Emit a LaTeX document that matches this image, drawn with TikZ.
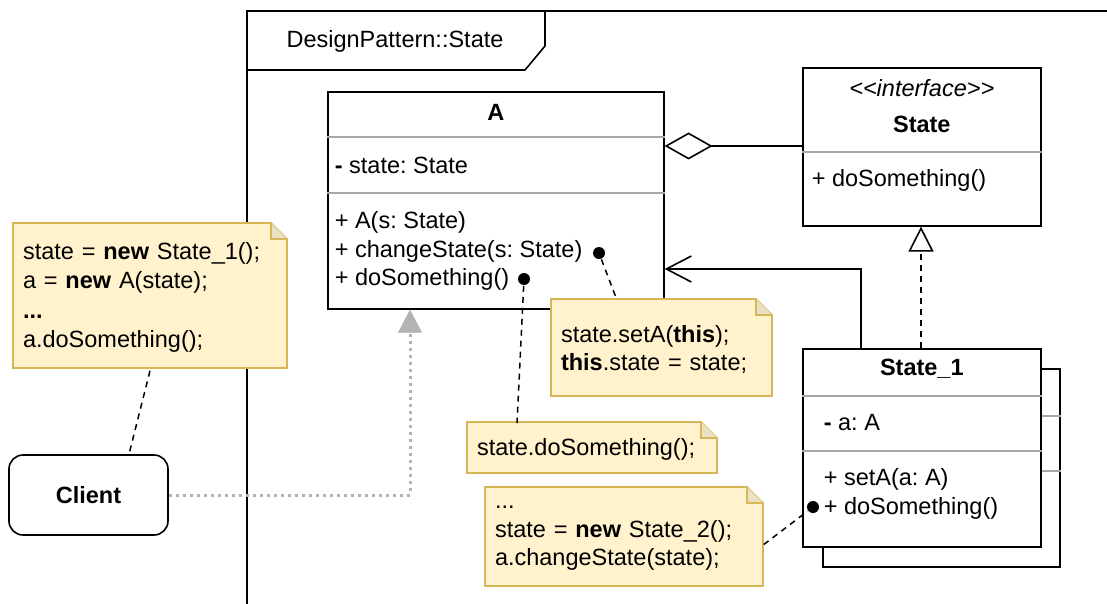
\documentclass[tikz,border=0pt]{standalone}
\usepackage{fontspec}
\setmainfont{Liberation Sans}
\usetikzlibrary{arrows.meta}
\frenchspacing

\definecolor{notefill}{HTML}{FFF2CC}
\definecolor{noteline}{HTML}{D6B656}
\definecolor{notefold}{HTML}{EAE0C4}
\definecolor{sepgray}{HTML}{A6A6A6}
\definecolor{depgray}{HTML}{B3B3B3}

% note with folded corner: name, x1, y1, x2, y2, text
\newcommand\umlnote[6]{%
  \draw[notepath] (#2,#3) -- (#4-16,#3) -- (#4,#3+16) -- (#4,#5) -- (#2,#5) -- cycle;
  \draw[notepath, fill=notefold] (#4-16,#3) -- (#4-16,#3+16) -- (#4,#3+16);
  \pgfmathsetmacro\notetw{#4-#2-20}
  \node[notetext, text width=\notetw pt, minimum height=#5-#3] (#1) at ({(#2+#4)/2},{(#3+#5)/2+2}) {#6};
}

\begin{document}
\begin{tikzpicture}[
        x=1pt, y=-1pt,
        line width=1.6pt,
        umlfont/.style={font=\fontsize{23.5}{28.5}\selectfont},
        umlbold/.style={font=\fontsize{23.5}{28.5}\selectfont\bfseries},
        umlital/.style={font=\fontsize{23.5}{28.5}\selectfont\itshape},
        classbox/.style={draw, fill=white, inner sep=0pt, anchor=north west},
        sepline/.style={draw=sepgray},
        member/.style={umlfont, anchor=west, inner sep=0pt, align=left},
        notepath/.style={draw=noteline, fill=notefill},
        notetext/.style={umlfont, align=left, inner xsep=10pt, inner ysep=0pt},
        notelink/.style={line width=1.5pt, dash pattern=on 6pt off 5pt},
        dotend/.style={circle, fill, inner sep=0pt, minimum size=12pt},
        aggr/.style={-{Diamond[open, length=48pt, width=27pt]}},
        assoc/.style={-{Straight Barb[length=25pt, width=26pt]}},
        realize/.style={dash pattern=on 6pt off 5pt, -{Triangle[open, length=25pt, width=25pt]}},
        dependency/.style={depgray, line width=3pt, dash pattern=on 3pt off 4pt,
            -{Triangle[length=23pt, width=24pt, line width=0.5pt]}}
    ]
    \useasboundingbox (0,0) rectangle (1107,604);

    % ==========================================
    % package frame
    % ==========================================
    \draw (247,604) -- (247,11) -- (1107,11);
    \draw (247,70) -- (525,70) -- (545,46) -- (545,11);
    \node[umlfont] (pkg) at (395,41) {DesignPattern::State};

    % ==========================================
    % class A
    % ==========================================
    \node[classbox, minimum width=336pt, minimum height=217pt] (A) at (327,91) {};
    \node[umlbold] (Atitle) at (A.north |- 0,112) {A};
    \draw[sepline] (A.west |- 0,137) -- (A.east |- 0,137);
    \node[member] (Astate) at (334,165) {\textbf{-} state: State};
    \draw[sepline] (A.west |- 0,193) -- (A.east |- 0,193);
    \node[member] (Aops) at (334,251) {+ A(s: State)\\+ changeState(s: State)\\+ doSomething()};

    % ==========================================
    % interface State
    % ==========================================
    \node[classbox, minimum width=238pt, minimum height=158pt] (state) at (802,67) {};
    \node[umlital] (stereo) at (state.north |- 0,88) {<\kern0pt<interface>\kern0pt>};
    \node[umlbold] (stitle) at (state.north |- 0,124) {State};
    \draw[sepline] (state.west |- 0,152) -- (state.east |- 0,152);
    \node[member] (sops) at (811,180) {+ doSomething()};

    % ==========================================
    % class State_1 (with shadow copy)
    % ==========================================
    \node[classbox, minimum width=237pt, minimum height=198pt] (s1back) at (822,368) {};
    \draw[sepline] (1040,416) -- (s1back.east |- 0,416);
    \draw[sepline] (1040,471) -- (s1back.east |- 0,471);
    \node[classbox, minimum width=238pt, minimum height=198pt] (s1) at (802,348) {};
    \node[umlbold] (s1title) at (s1.north |- 0,369) {State\_1};
    \draw[sepline] (s1.west |- 0,396) -- (s1.east |- 0,396);
    \node[member] (s1a) at (823,423) {\textbf{-} a: A};
    \draw[sepline] (s1.west |- 0,451) -- (s1.east |- 0,451);
    \node[member] (s1ops) at (823,494) {+ setA(a: A)\\+ doSomething()};

    % ==========================================
    % Client
    % ==========================================
    \node[draw, umlbold, rounded corners=14pt, minimum width=159pt, minimum height=80pt] (client) at (88.5,495) {Client};

    % relations
    \draw[aggr] (state.west |- 0,146) -- (A.east |- 0,146);
    \draw[assoc] (861,0 |- s1.north) |- (A.east |- 0,269);
    \draw[realize] (921,0 |- s1.north) -- (921,0 |- state.south);
    \draw[dependency] (client.east) -| (410,0 |- A.south);

    % ==========================================
    % notes
    % ==========================================
    \umlnote{ncli}{13}{223}{287}{368}{state = \textbf{new} State\_1();\\a = \textbf{new} A(state);\\[2pt]\textbf{...}\\a.doSomething();}
    \umlnote{nset}{551}{299}{772}{396}{state.setA(\textbf{this});\\\textbf{this}.state = state;}
    \umlnote{ndo}{467}{422}{717}{473}{state.doSomething();}
    \umlnote{nchg}{485}{487}{763}{586}{...\\state = \textbf{new} State\_2();\\a.changeState(state);}

    % note links
    \node[dotend] (dchg) at (599,253) {};
    \node[dotend] (ddoA) at (524,279) {};
    \node[dotend] (ddo1) at (813,507) {};
    \draw[notelink] (dchg) -- (617,0 |- nset.north);
    \draw[notelink] (ddoA) -- (517,0 |- ndo.north);
    \draw[notelink] ([yshift=-6pt]nchg.east) -- (ddo1);
    \draw[notelink] (150,0 |- ncli.south) -- (129,0 |- client.north);

\end{tikzpicture}
\end{document}
